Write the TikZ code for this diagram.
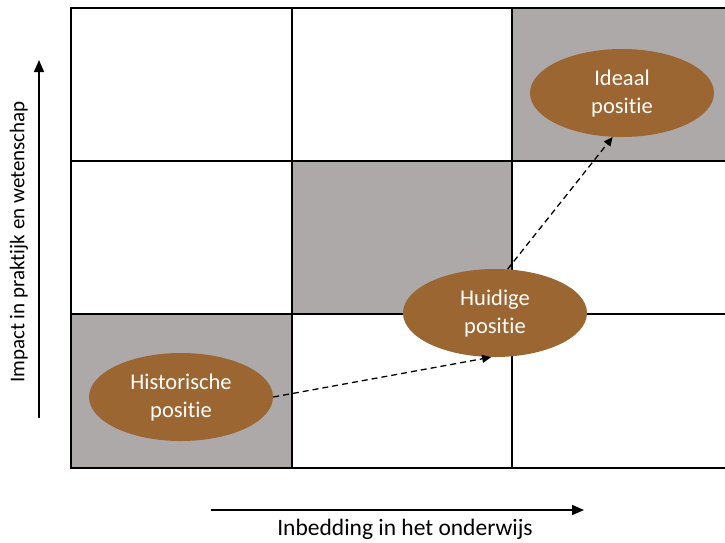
\documentclass[tikz,border=0pt]{standalone}
\usepackage{fontspec}
\setmainfont{Carlito}[Ligatures=NoCommon]
\usetikzlibrary{shapes.geometric,arrows.meta}
\definecolor{cellgray}{RGB}{173,169,169}
\definecolor{brownfill}{RGB}{155,102,49}
\tikzset{
  cell/.style={fill=cellgray,draw=none},
  gridline/.style={line width=1.4pt,black},
  posnode/.style={ellipse,fill=brownfill,draw=none,minimum width=184pt,minimum height=88pt,text=white,align=center,font=\fontsize{22.5}{28}\selectfont,inner sep=0pt},
  dasharrow/.style={dashed,line width=1.3pt,dash pattern=on 6pt off 4pt,-{Triangle[length=9pt,width=8pt]}},
  axisarrow/.style={line width=1.6pt,-{Triangle[length=12pt,width=10pt]}},
  axislabel/.style={inner sep=0pt}
}
\begin{document}
\begin{tikzpicture}[x=1pt,y=-1pt]
\useasboundingbox (0,0) rectangle (725,542);
\fill[white] (0,0) rectangle (725,542);
% gray cells
\fill[cell] (512,8) rectangle (725,161);
\fill[cell] (292,161) rectangle (512,314);
\fill[cell] (71,314) rectangle (292,468);
% grid
\draw[gridline] (725,8) -- (71,8) -- (71,468) -- (725,468);
\draw[gridline] (292,8) -- (292,468);
\draw[gridline] (512,8) -- (512,468);
\draw[gridline] (71,161) -- (725,161);
\draw[gridline] (71,314) -- (725,314);
% positions
\node[posnode] (ideal) at (622,93) {Ideaal\\positie};
\node[posnode] (huid) at (495,313) {Huidige\\positie};
\node[posnode] (hist) at (181,397) {Historische\\positie};
% connectors
\draw[dasharrow] (hist.east) -- (huid.265);
\draw[dasharrow] (huid.74) -- (ideal.258);
% axes
\coordinate (ya) at (39,418);
\coordinate (yb) at (39,60);
\coordinate (xa) at (211,510);
\coordinate (xb) at (584,510);
\draw[axisarrow] (ya) -- (yb);
\draw[axisarrow] (xa) -- (xb);
\node[axislabel,rotate=90,font=\fontsize{21}{24}\selectfont] (ylab) at (19,242) {Impact in praktijk en wetenschap};
\node[axislabel,font=\fontsize{23.5}{27}\selectfont] (xlab) at (405,529) {Inbedding in het onderwijs};
\end{tikzpicture}
\end{document}
